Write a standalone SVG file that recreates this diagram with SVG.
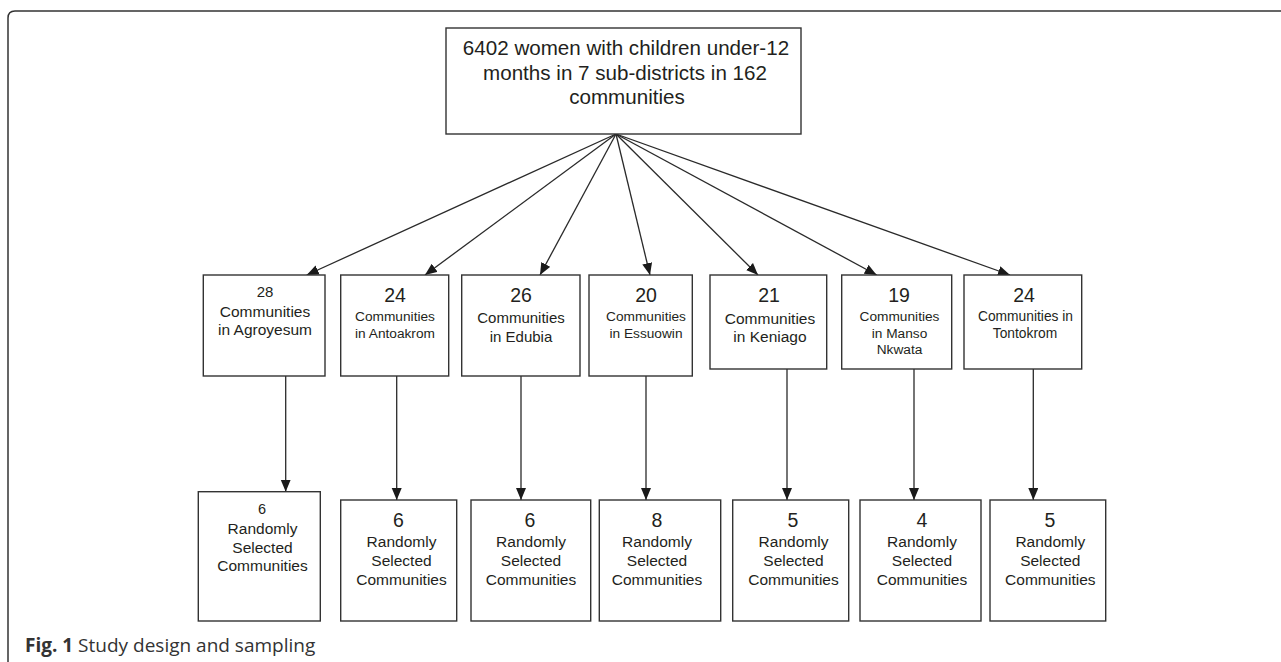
<svg xmlns="http://www.w3.org/2000/svg" width="1281" height="662" viewBox="0 0 1281 662">
<style>
.box{fill:#fff;stroke:#333;stroke-width:1.4}
.t{font-family:"Liberation Sans",Arial,sans-serif;fill:#231f20;text-anchor:middle}
.c{stroke:#2a2a2a;stroke-width:1.3;fill:none;marker-end:url(#ah)}
.cap{font-family:"Open Sans","Noto Sans",sans-serif;fill:#333;font-size:19px}
</style>
<defs>
<marker id="ah" markerUnits="userSpaceOnUse" markerWidth="13" markerHeight="11" refX="12" refY="5" orient="auto">
<path d="M0,0 L12,5 L0,10 z" fill="#1a1a1a"/>
</marker>
</defs>
<rect width="1281" height="662" fill="#fff"/>
<path d="M8,662 L8,18 Q8,11 15,11 L1281,11" fill="none" stroke="#333" stroke-width="1.5"/>

<g id="connectors">
<line class="c" x1="616" y1="134" x2="306.7" y2="275"/>
<line class="c" x1="616" y1="134" x2="425" y2="275"/>
<line class="c" x1="616" y1="134" x2="540" y2="275"/>
<line class="c" x1="616" y1="134" x2="650" y2="275"/>
<line class="c" x1="616" y1="134" x2="758" y2="275"/>
<line class="c" x1="616" y1="134" x2="876.7" y2="275"/>
<line class="c" x1="616" y1="134" x2="1010" y2="275"/>
<line class="c" x1="285.7" y1="376" x2="285.7" y2="491.7"/>
<line class="c" x1="396.7" y1="376" x2="396.7" y2="500"/>
<line class="c" x1="521" y1="376" x2="521" y2="500"/>
<line class="c" x1="646" y1="376" x2="646" y2="500"/>
<line class="c" x1="787" y1="369" x2="787" y2="500"/>
<line class="c" x1="914" y1="369" x2="914" y2="500"/>
<line class="c" x1="1033.3" y1="369" x2="1033.3" y2="500"/>
</g>

<g id="top">
<rect class="box" x="446" y="28" width="355" height="106"/>
<text class="t" font-size="20.6" x="626" y="55">6402 women with children under-12</text>
<text class="t" font-size="20.6" x="625" y="80">months in 7 sub-districts in 162</text>
<text class="t" font-size="20.6" x="627" y="104">communities</text>
</g>

<g id="m1">
<rect class="box" x="203.3" y="275" width="121.7" height="101"/>
<text class="t" font-size="15" x="265" y="296.7">28</text>
<text class="t" font-size="15.5" x="265" y="317.3">Communities</text>
<text class="t" font-size="15.5" x="265" y="335">in Agroyesum</text>
</g>
<g id="m2">
<rect class="box" x="340.7" y="275" width="108" height="101"/>
<text class="t" font-size="19.5" x="395" y="301.7">24</text>
<text class="t" font-size="13.7" x="395" y="320.7">Communities</text>
<text class="t" font-size="13.7" x="395" y="337.7">in Antoakrom</text>
</g>
<g id="m3">
<rect class="box" x="461.7" y="275" width="118.3" height="101"/>
<text class="t" font-size="19.5" x="521" y="301.7">26</text>
<text class="t" font-size="15" x="521" y="323.3">Communities</text>
<text class="t" font-size="15" x="521" y="341.7">in Edubia</text>
</g>
<g id="m4">
<rect class="box" x="589" y="275" width="103.3" height="101"/>
<text class="t" font-size="19.5" x="646" y="302.3">20</text>
<text class="t" font-size="13.7" x="646" y="321">Communities</text>
<text class="t" font-size="13.7" x="646" y="337.7">in Essuowin</text>
</g>
<g id="m5">
<rect class="box" x="710" y="275" width="116.7" height="94"/>
<text class="t" font-size="19.5" x="769" y="302.3">21</text>
<text class="t" font-size="15.5" x="770" y="324">Communities</text>
<text class="t" font-size="15.5" x="770" y="341.7">in Keniago</text>
</g>
<g id="m6">
<rect class="box" x="841.7" y="275" width="110" height="94"/>
<text class="t" font-size="19.5" x="899" y="302">19</text>
<text class="t" font-size="13.7" x="899.5" y="321">Communities</text>
<text class="t" font-size="13.7" x="899.5" y="337.7">in Manso</text>
<text class="t" font-size="13.7" x="899.5" y="354.3">Nkwata</text>
</g>
<g id="m7">
<rect class="box" x="964" y="275" width="117.7" height="94"/>
<text class="t" font-size="19.5" x="1024" y="301.7">24</text>
<text class="t" font-size="13.8" x="1025.5" y="321">Communities in</text>
<text class="t" font-size="13.8" x="1025" y="337.7">Tontokrom</text>
</g>

<g id="b1">
<rect class="box" x="198.3" y="491.7" width="122" height="129.3"/>
<text class="t" font-size="14.5" x="262" y="514.3">6</text>
<text class="t" font-size="15.5" x="262.5" y="534">Randomly</text>
<text class="t" font-size="15.5" x="262.5" y="552.7">Selected</text>
<text class="t" font-size="15.5" x="262.5" y="571">Communities</text>
</g>
<g id="b2">
<rect class="box" x="340.7" y="500" width="116" height="121"/>
<text class="t" font-size="19.5" x="398.5" y="526.7">6</text>
<text class="t" font-size="15.5" x="401.5" y="547.3">Randomly</text>
<text class="t" font-size="15.5" x="401.5" y="566">Selected</text>
<text class="t" font-size="15.5" x="401.5" y="585">Communities</text>
</g>
<g id="b3">
<rect class="box" x="471" y="500" width="119.7" height="121"/>
<text class="t" font-size="19.5" x="530" y="526.7">6</text>
<text class="t" font-size="15.5" x="531" y="547.3">Randomly</text>
<text class="t" font-size="15.5" x="531" y="566">Selected</text>
<text class="t" font-size="15.5" x="531" y="585">Communities</text>
</g>
<g id="b4">
<rect class="box" x="599.3" y="500" width="121.4" height="121"/>
<text class="t" font-size="19.5" x="657" y="526.7">8</text>
<text class="t" font-size="15.5" x="657" y="547.3">Randomly</text>
<text class="t" font-size="15.5" x="657" y="566">Selected</text>
<text class="t" font-size="15.5" x="657" y="585">Communities</text>
</g>
<g id="b5">
<rect class="box" x="732.7" y="500" width="116" height="121"/>
<text class="t" font-size="19.5" x="793" y="526.7">5</text>
<text class="t" font-size="15.5" x="793.5" y="547.3">Randomly</text>
<text class="t" font-size="15.5" x="793.5" y="566">Selected</text>
<text class="t" font-size="15.5" x="793.5" y="585">Communities</text>
</g>
<g id="b6">
<rect class="box" x="860" y="500" width="121" height="121"/>
<text class="t" font-size="19.5" x="922" y="526.7">4</text>
<text class="t" font-size="15.5" x="922" y="547.3">Randomly</text>
<text class="t" font-size="15.5" x="922" y="566">Selected</text>
<text class="t" font-size="15.5" x="922" y="585">Communities</text>
</g>
<g id="b7">
<rect class="box" x="990" y="500" width="115.7" height="121"/>
<text class="t" font-size="19.5" x="1050" y="526.7">5</text>
<text class="t" font-size="15.5" x="1050.3" y="547.3">Randomly</text>
<text class="t" font-size="15.5" x="1050.3" y="566">Selected</text>
<text class="t" font-size="15.5" x="1050.3" y="585">Communities</text>
</g>

<text class="cap" x="25" y="652"><tspan font-weight="bold">Fig. 1</tspan> Study design and sampling</text>
</svg>
